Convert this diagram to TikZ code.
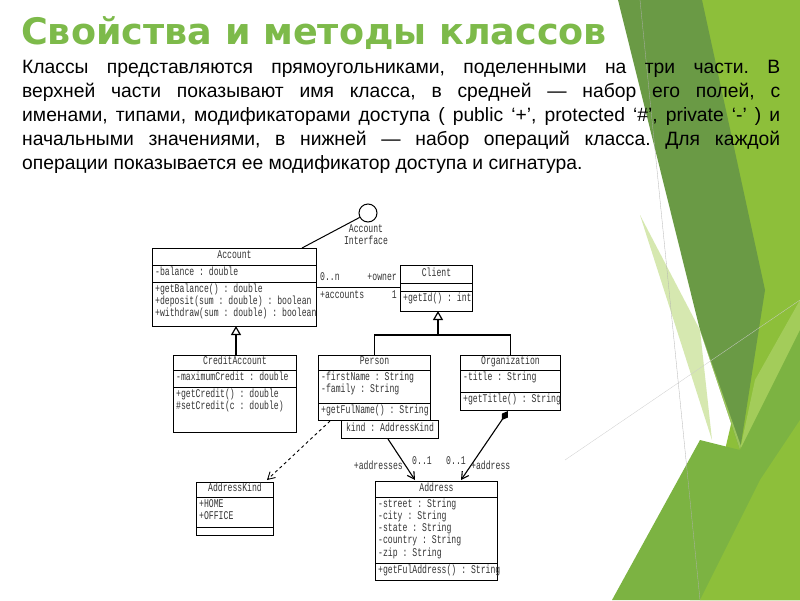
\documentclass[tikz,border=0pt]{standalone}
\usepackage{fontspec}
\usepackage{graphicx}
\setmainfont{Liberation Sans}
\newfontfamily\umlfont{Liberation Mono}
\newfontfamily\titlefont{DejaVu Sans}
\usetikzlibrary{calc,arrows.meta}
\frenchspacing
\definecolor{gA}{HTML}{6A9A45}
\definecolor{gB}{HTML}{8DBF3A}
\definecolor{gC}{HTML}{D6E8B0}
\definecolor{gD}{HTML}{7CB342}
\definecolor{gE}{HTML}{A9D062}
\definecolor{ttl}{HTML}{7DBA4A}
\definecolor{umltxt}{HTML}{333333}
\newcommand\nar[1]{\scalebox{0.69}[1]{\begin{tabular}{@{}l@{}}#1\end{tabular}}}
\newcommand\narc[1]{\scalebox{0.69}[1]{\begin{tabular}{@{}c@{}}#1\end{tabular}}}
\tikzset{
  umlbox/.style={draw, line width=1pt, inner sep=0pt, anchor=north west},
  umltext/.style={font=\umlfont\fontsize{11.8}{12.2}\selectfont, text=umltxt, inner sep=0pt},
  gen/.style={line width=1.2pt, -{Triangle[open,length=9pt,width=10pt,fill=white]}},
  assoc/.style={line width=1pt},
  lbl/.style={font=\umlfont\fontsize{11.8}{12}\selectfont, text=umltxt, inner sep=1pt}
}
\newcommand\umlclass[9]{%
  \pgfmathsetmacro\hh{#4+#5+#6}%
  \node[umlbox, minimum width=#3pt, minimum height=\hh pt] (#1) at #2 {};
  \draw[line width=1pt] ($(#1.north west)+(0,#4)$) -- ++(#3,0);
  \draw[line width=1pt] ($(#1.north west)+(0,#4+#5)$) -- ++(#3,0);
  \node[umltext] (#1-t) at ($(#1.north)+(0,#4/2)$) {\nar{#7}};
  \node[umltext, anchor=north west] (#1-a) at ($(#1.north west)+(3,#4+1.5)$) {\nar{#8}};
  \node[umltext, anchor=north west] (#1-o) at ($(#1.north west)+(3,#4+#5+1.5)$) {\nar{#9}};
}
\begin{document}
\begin{tikzpicture}[x=1pt,y=-1pt]
\fill[white] (0,0) rectangle (800,600);
\useasboundingbox (0,0) rectangle (800,600);
% background decoration
\fill[gB] (700,0) -- (800,0) -- (800,600) -- (690,600) -- (760,300) -- cycle;
\fill[gA] (618,0) -- (702,0) -- (765,290) -- (740,450) -- (700,330) -- cycle;
\fill[gC] (640,215) -- (700,330) -- (712,440) -- cycle;
\fill[gE,opacity=0.8] (700,330) -- (740,450) -- (755,380) -- (800,300) -- (800,360) -- (760,500) -- cycle;
\fill[gD] (612,600) -- (700,440) -- (740,450) -- (800,330) -- (800,600) -- cycle;
\fill[gB] (700,600) -- (760,480) -- (800,420) -- (800,600) -- cycle;
\draw[gray!60, line width=0.3pt] (640,0) -- (700,600);
\draw[gray!40, line width=0.3pt] (565,460) -- (800,300);
% title
\node[anchor=west, inner sep=0, text=ttl, font=\titlefont\bfseries\fontsize{36.5}{40}\selectfont] (title) at (21,33) {Свойства и методы классов};
% paragraph
\node[anchor=north west, inner sep=0, text width=758pt, align=justify, font=\fontsize{19.3}{24}\selectfont] (para) at (22,60)
{Классы представляются прямоугольниками, поделенными на три части. В\linebreak верхней части показывают имя класса, в средней — набор его полей, с\linebreak именами, типами, модификаторами доступа ( public ‘+’, protected ‘\#’, private ‘-’ ) и\linebreak начальными значениями, в нижней — набор операций класса. Для каждой\linebreak операции показывается ее модификатор доступа и сигнатура.};
% classes
\umlclass{acc}{(152,248)}{164}{17}{17}{44}{Account}{-balance : double}{+getBalance() : double\\+deposit(sum : double) : boolean\\+withdraw(sum : double) : boolean}
\umlclass{cli}{(400,265)}{72}{18}{8}{20}{Client}{}{+getId() : int}
\umlclass{cred}{(173,355)}{123}{15}{17}{45}{CreditAccount}{-maximumCredit : double}{+getCredit() : double\\\#setCredit(c : double)}
\umlclass{per}{(318,355)}{112}{15}{33}{17}{Person}{-firstName : String\\-family : String}{+getFulName() : String}
\umlclass{org}{(460,355)}{100}{15}{22}{18}{Organization}{-title : String}{+getTitle() : String}
\umlclass{ak}{(196,482)}{77}{15}{30}{8}{AddressKind}{+HOME\\+OFFICE}{}
\umlclass{adr}{(375,481)}{122}{16}{66}{17}{Address}{-street : String\\-city : String\\-state : String\\-country : String\\-zip : String}{+getFulAddress() : String}
% qualifier
\node[umlbox, minimum width=97pt, minimum height=18pt] (q) at (341,420) {};
\node[umltext] (q-t) at (q.center) {\nar{kind : AddressKind}};
% interface
\node[draw, circle, line width=1pt, minimum size=18pt, inner sep=0] (ifc) at (368,213) {};
\node[umltext] (ifc-t) at (366,236) {\narc{Account\\Interface}};
\draw[assoc] (ifc) -- ($(acc.north west)+(150,0)$);
% association Account-Client
\coordinate (aR) at ($(acc.north east)+(0,39)$);
\coordinate (cL) at ($(cli.north west)+(0,22)$);
\draw[assoc] (aR) -- (cL);
\node[lbl, anchor=south west] (l1) at ($(aR)+(2,-2)$) {\nar{0..n}};
\node[lbl, anchor=south east] (l2) at ($(cL)+(-2,-2)$) {\nar{+owner}};
\node[lbl, anchor=north west] (l3) at ($(aR)+(2,2)$) {\nar{+accounts}};
\node[lbl, anchor=north east] (l4) at ($(cL)+(-2,2)$) {\nar{1}};
% generalizations
\draw[gen] (cred.north -| 236,0) -- (236,326);
\coordinate (gj) at (438,335);
\draw[line width=1.2pt] (per.north) |- (gj) -| (org.north);
\draw[gen] (gj) -- (438,311);
% dependency
\draw[line width=0.9pt, dashed, -{Straight Barb[length=7pt,width=8pt]}] ($(per.south west)+(12,0)$) -- ($(ak.north east)+(-7,-2)$);
% qualified association
\draw[line width=1.1pt, -{Straight Barb[length=7pt,width=8pt]}] ($(q.south)+(-2,0)$) -- ($(adr.north west)+(40,-1)$);
\node[lbl, anchor=east] (l5) at (404,467) {\nar{+addresses}};
\node[lbl] (l6) at (422,462) {\nar{0..1}};
% composition
\draw[line width=1.1pt, {Diamond[length=11pt,width=7pt]}-{Straight Barb[length=7pt,width=8pt]}] ($(org.south west)+(48,0)$) -- ($(adr.north west)+(86,-1)$);
\node[lbl] (l7) at (456,462) {\nar{0..1}};
\node[lbl, anchor=west] (l8) at (470,467) {\nar{+address}};
\end{tikzpicture}
\end{document}
